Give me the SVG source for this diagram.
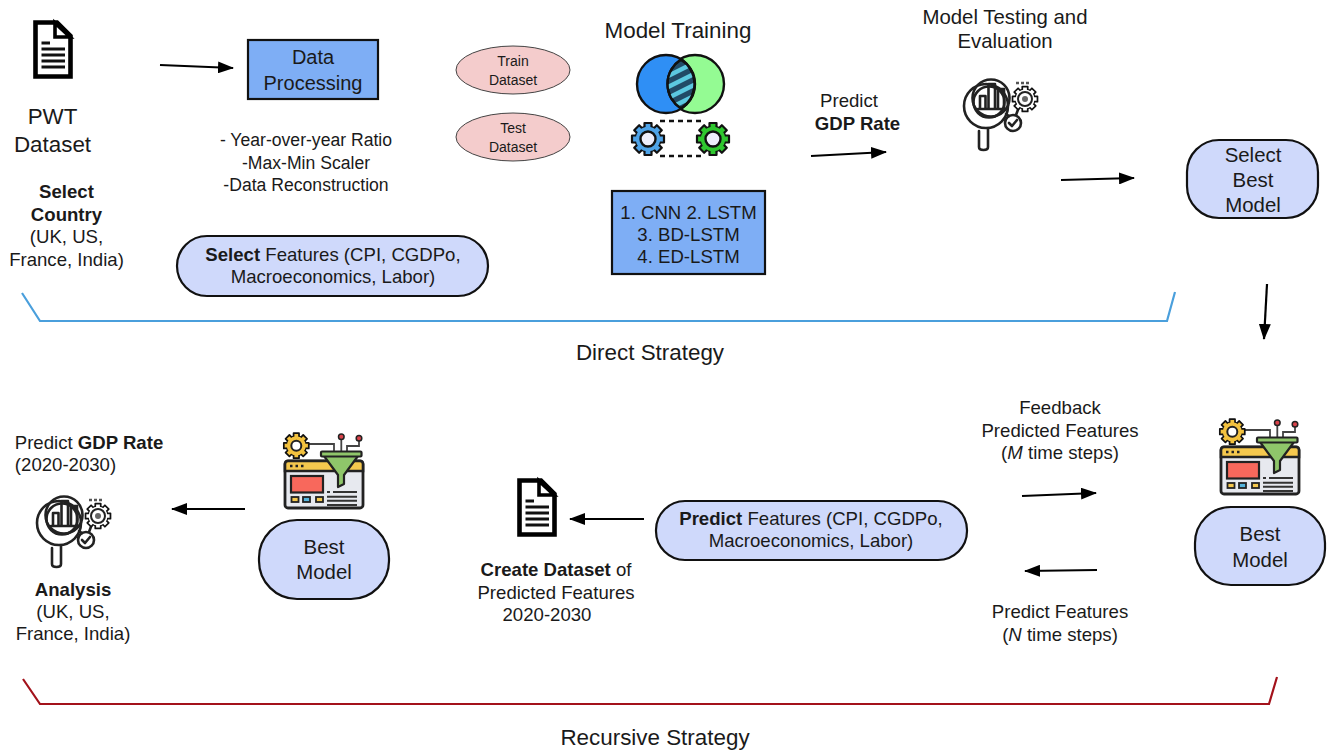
<svg xmlns="http://www.w3.org/2000/svg" width="1331" height="752" viewBox="0 0 1331 752">
<style>
text{font-family:"Liberation Sans",Arial,sans-serif;font-size:18.6px;fill:#1a1a1a;text-anchor:middle;transform:translateY(.6px)}
.l{font-size:22.4px}
.d{font-size:20px}
.n{font-size:17.6px}
.m{font-size:20.4px}
.t{font-size:14px}
.b{font-weight:bold}
.i{font-style:italic}
.pill{fill:#cfd9fb;stroke:#111;stroke-width:2.2}
.box{fill:#7eaef5;stroke:#111;stroke-width:2.2}
.oval{fill:#f4cccc;stroke:#444;stroke-width:1}
.arr{fill:none;stroke:#000;stroke-width:2.2;marker-end:url(#ah)}
.ic{fill:none;stroke:#222;stroke-width:2.600;stroke-linejoin:round;stroke-linecap:round}
.tooth{fill:currentColor;stroke:#111;stroke-width:2.2;stroke-linejoin:round}
</style>
<defs>
<marker id="ah" markerUnits="userSpaceOnUse" markerWidth="16" markerHeight="12" refX="15" refY="6" orient="auto"><path d="M0 0L16 6L0 12Z" fill="#000"/></marker>
<g id="teeth">
<circle r="13.500" fill="#111"/>
<rect class="tooth" x="-3.500" y="-16" width="7" height="6"/>
<rect class="tooth" x="-3.500" y="-16" width="7" height="6" transform="rotate(45)"/>
<rect class="tooth" x="-3.500" y="-16" width="7" height="6" transform="rotate(90)"/>
<rect class="tooth" x="-3.500" y="-16" width="7" height="6" transform="rotate(135)"/>
<rect class="tooth" x="-3.500" y="-16" width="7" height="6" transform="rotate(180)"/>
<rect class="tooth" x="-3.500" y="-16" width="7" height="6" transform="rotate(225)"/>
<rect class="tooth" x="-3.500" y="-16" width="7" height="6" transform="rotate(270)"/>
<rect class="tooth" x="-3.500" y="-16" width="7" height="6" transform="rotate(315)"/>
<circle r="12.200" fill="currentColor"/>
</g>
<symbol id="doc" overflow="visible">
<path d="M2.500 2.500H24L37.500 16V56.500H2.500Z" fill="#fff" stroke="#000" stroke-width="4.600" stroke-linejoin="miter"/>
<path d="M22 3V17H37Z" fill="#fff" stroke="#000" stroke-width="3.600"/>
<path d="M8.500 23H17M8.500 29H32M8.500 35H32M8.500 41H32M8.500 47H32" stroke="#111" stroke-width="3" fill="none"/>
</symbol>
<symbol id="ana" overflow="visible">
<circle class="ic" cx="24" cy="32" r="22" fill="#fff"/>
<circle class="ic" cx="27" cy="28" r="15.500" fill="#fff"/>
<path class="ic" d="M17 57V73Q17 76 21.500 76Q26 76 26 73V55" fill="#fff"/>
<circle class="ic" cx="29" cy="24" r="18.500" fill="#fff"/>
<path class="ic" d="M18 35V22H23.500V35M26.500 35V10H33V35M36 35V15H42V35M16 35H44"/>
<path class="ic" d="M44 40L47 42M57 33L54 41"/>
<circle class="ic" cx="51" cy="49" r="8" fill="#fff"/>
<path class="ic" d="M47 49L50 52L55 46"/>
<use href="#teeth" transform="translate(63 25) scale(.78)" color="#fff"/>
<circle cx="63" cy="25" r="7" fill="#fff" stroke="#222" stroke-width="2"/>
<circle cx="63" cy="25" r="3" fill="#666"/>
<path d="M54 9h3M59 9h3M64 9h3" stroke="#555" stroke-width="2.400"/>
</symbol>
<symbol id="fun" overflow="visible">
<rect x="1" y="29" width="78" height="47" rx="3" fill="#e7e9ef" stroke="#222" stroke-width="2.800"/>
<path d="M1 39V32Q1 29 4 29H76Q79 29 79 32V39Z" fill="#f5c84e" stroke="#222" stroke-width="2.600"/>
<path d="M6 34h2.500M11.500 34h2.500M17 34h2.500" stroke="#222" stroke-width="2.600"/>
<rect x="7" y="44" width="32" height="16.500" fill="#f8685c" stroke="#222" stroke-width="2.200"/>
<rect x="7.500" y="65" width="7" height="5" fill="#f5c84e" stroke="#222" stroke-width="1.800"/>
<rect x="19" y="65" width="7" height="5" fill="#54b4dc" stroke="#222" stroke-width="1.800"/>
<rect x="32" y="65" width="7" height="5" fill="#f5c84e" stroke="#222" stroke-width="1.800"/>
<path d="M43 60H46M49 60H73M43 64.700H73M43 68.700H73M43 73H73" stroke="#333" stroke-width="1.900"/>
<path d="M23 12H50V20M57.300 7V19M75 8V14H63V20" fill="none" stroke="#444" stroke-width="1.800"/>
<use href="#teeth" transform="translate(12.300 13.700) scale(.78)" color="#f3c23f"/>
<circle cx="12.300" cy="13.700" r="5" fill="#fff" stroke="#222" stroke-width="2"/>
<circle cx="57.300" cy="4.700" r="2.800" fill="#d9424a" stroke="#222" stroke-width="1.500"/>
<circle cx="75" cy="6.300" r="2.800" fill="#d9424a" stroke="#222" stroke-width="1.500"/>
<path d="M40 24H74L60 43V52L54 55V43Z" fill="#8fc66a" stroke="#222" stroke-width="2.200" stroke-linejoin="round"/>
<rect x="37" y="19.500" width="40.500" height="5" rx="1" fill="#8fc66a" stroke="#222" stroke-width="2.200"/>
</symbol>
<clipPath id="lens"><path d="M681 59.500A29 29 0 0 1 681 108.500A29 29 0 0 1 681 59.500Z"/></clipPath>
</defs>

<g id="connectors">
<path class="arr" d="M160 65L233 68"/>
<path class="arr" d="M811 156L886 152"/>
<path class="arr" d="M1061 180L1134 178"/>
<path class="arr" d="M1267 284L1264 339"/>
<path class="arr" d="M1022 496L1096 493"/>
<path class="arr" d="M1097 570L1025 571"/>
<path class="arr" d="M644 519L570 519"/>
<path class="arr" d="M245 509L172 509"/>
<path d="M22 293L40 321H1167L1175 292" fill="none" stroke="#4a9fdc" stroke-width="2.200"/>
<path d="M23 679L40 704H1269L1277 677" fill="none" stroke="#a3121b" stroke-width="2.200"/>
</g>

<g id="pwt">
<use href="#doc" x="33" y="20"/>
<text class="l" x="52.500" y="123">PWT</text><text class="l" x="52.500" y="151">Dataset</text>
</g>
<g id="select-country">
<text class="b" x="66.500" y="197">Select</text><text class="b" x="66.500" y="220">Country</text>
<text x="66.500" y="242">(UK, US,</text><text x="66.500" y="265">France, India)</text>
</g>
<g id="data-processing">
<rect class="box" x="248" y="40" width="130" height="59"/>
<text class="d" x="313" y="63">Data</text><text class="d" x="313" y="89">Processing</text>
</g>
<g id="processing-notes">
<text class="n" x="306" y="145">- Year-over-year Ratio</text>
<text class="n" x="306" y="168">-Max-Min Scaler</text>
<text class="n" x="306" y="190">-Data Reconstruction</text>
</g>
<g id="select-features">
<rect class="pill" x="177" y="236" width="311" height="60" rx="30"/>
<text x="333" y="260"><tspan class="b">Select</tspan> Features (CPI, CGDPo,</text>
<text x="333" y="282">Macroeconomics, Labor)</text>
</g>
<g id="train-dataset">
<ellipse class="oval" cx="513" cy="70" rx="57" ry="24"/>
<text class="t" x="513" y="65">Train</text><text class="t" x="513" y="84">Dataset</text>
</g>
<g id="test-dataset">
<ellipse class="oval" cx="513" cy="137" rx="57" ry="24"/>
<text class="t" x="513" y="132">Test</text><text class="t" x="513" y="151">Dataset</text>
</g>
<g id="model-training">
<text class="l" x="678" y="37">Model Training</text>
<circle cx="695" cy="84" r="29" fill="#94fb93" stroke="#111" stroke-width="2.400"/>
<circle cx="666" cy="84" r="29" fill="#2f8ff5" stroke="#111" stroke-width="2.400"/>
<path d="M681 59.500A29 29 0 0 1 681 108.500A29 29 0 0 1 681 59.500Z" fill="#214a66" stroke="#111" stroke-width="2.400"/>
<g clip-path="url(#lens)"><path d="M664 78L696 62M664 89L696 73M664 100L696 84M666 110L696 95" stroke="#5cc8e0" stroke-width="4.500" fill="none"/></g>
<path d="M681 59.500A29 29 0 0 1 681 108.500A29 29 0 0 1 681 59.500Z" fill="none" stroke="#111" stroke-width="2.400"/>
<path d="M660 121H702M660 156H702" stroke="#111" stroke-width="2.400" stroke-dasharray="5 4" fill="none"/>
<use href="#teeth" transform="translate(648 139)" color="#4ea3e8"/>
<circle cx="648" cy="139" r="7.500" fill="#eeeefc" stroke="#111" stroke-width="2.400"/>
<use href="#teeth" transform="translate(713 139)" color="#2fc72f"/>
<circle cx="713" cy="139" r="7.500" fill="#eeeefc" stroke="#111" stroke-width="2.400"/>
</g>
<g id="models">
<rect class="box" x="612" y="191" width="153" height="83"/>
<text x="688.500" y="218">1. CNN 2. LSTM</text>
<text x="688.500" y="240">3. BD-LSTM</text>
<text x="688.500" y="262">4. ED-LSTM</text>
</g>
<g id="predict-gdp">
<text x="849" y="106">Predict</text>
<text class="b" x="857.500" y="129">GDP Rate</text>
</g>
<g id="model-testing">
<text class="m" x="1005" y="23">Model Testing and</text>
<text class="m" x="1005" y="47">Evaluation</text>
<use href="#ana" x="962" y="74"/>
</g>
<g id="select-best">
<rect class="pill" x="1187" y="140" width="131" height="78" rx="32"/>
<text class="m" x="1253" y="161">Select</text><text class="m" x="1253" y="186">Best</text><text class="m" x="1253" y="211">Model</text>
</g>
<text class="l" x="650" y="359">Direct Strategy</text>

<g id="best-model-right">
<use href="#fun" x="1220" y="418"/>
<rect class="pill" x="1195" y="507" width="130" height="78" rx="36"/>
<text class="m" x="1260" y="540">Best</text><text class="m" x="1260" y="566">Model</text>
</g>
<g id="feedback">
<text x="1060" y="413">Feedback</text>
<text x="1060" y="436">Predicted Features</text>
<text x="1060" y="458">(<tspan class="i">M</tspan> time steps)</text>
</g>
<g id="predict-n">
<text x="1060" y="617">Predict Features</text>
<text x="1060" y="640">(<tspan class="i">N</tspan> time steps)</text>
</g>
<g id="predict-features">
<rect class="pill" x="656" y="501" width="311" height="59" rx="29"/>
<text x="811" y="524"><tspan class="b">Predict</tspan> Features (CPI, CGDPo,</text>
<text x="811" y="546">Macroeconomics, Labor)</text>
</g>
<g id="create-dataset">
<use href="#doc" x="517" y="478"/>
<text x="556" y="575"><tspan class="b">Create Dataset</tspan> of</text>
<text x="556" y="598">Predicted Features</text>
<text x="547" y="620">2020-2030</text>
</g>
<g id="best-model-left">
<use href="#fun" x="284" y="432"/>
<rect class="pill" x="259" y="520" width="130" height="79" rx="38"/>
<text class="m" x="324" y="553">Best</text><text class="m" x="324" y="578">Model</text>
</g>
<g id="predict-gdp-left">
<text x="89" y="448">Predict <tspan class="b">GDP Rate</tspan></text>
<text x="65.500" y="470">(2020-2030)</text>
<use href="#ana" x="35" y="491"/>
</g>
<g id="analysis">
<text class="b" x="73" y="595">Analysis</text>
<text x="73" y="617">(UK, US,</text>
<text x="73" y="639">France, India)</text>
</g>
<text class="l" x="655" y="744">Recursive Strategy</text>
</svg>
